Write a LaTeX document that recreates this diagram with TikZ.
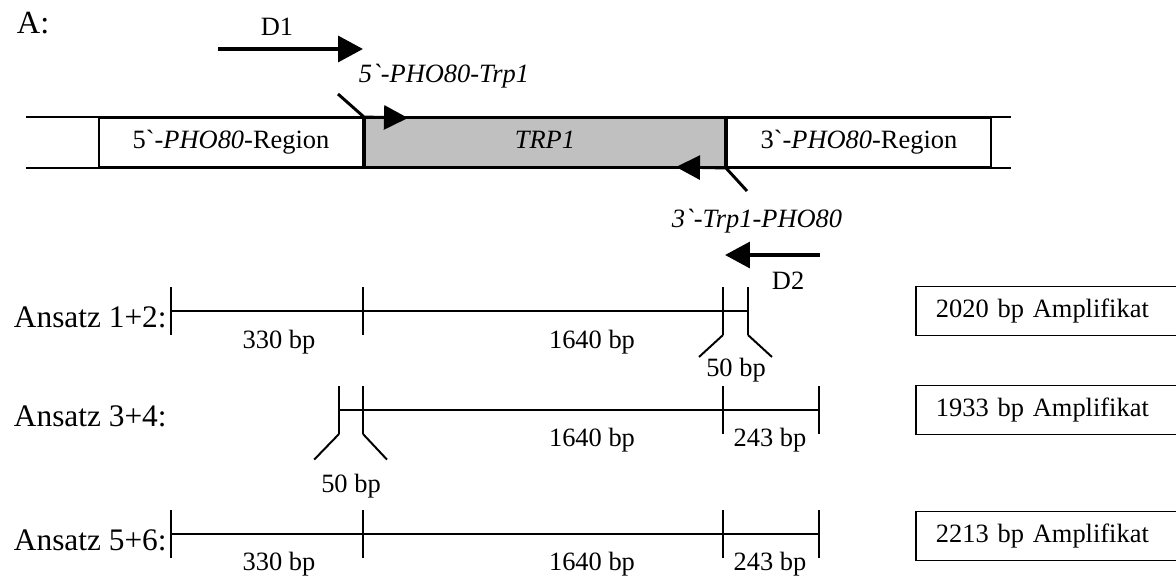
\documentclass[tikz,border=0pt]{standalone}
\usepackage{fontspec}
\setmainfont{Liberation Serif}
\usetikzlibrary{arrows.meta,positioning}
\definecolor{ink}{HTML}{000000}
\definecolor{trpgrey}{HTML}{C0C0C0}

\begin{document}
\begin{tikzpicture}[
  font=\fontsize{18.8}{22}\selectfont, text=ink,
  region/.style={draw=ink, line width=1.4pt, minimum width=6.6cm,
    minimum height=1.225cm, inner sep=0pt, text height=.9em, text depth=0pt},
  strand/.style={draw=ink, line width=1.4pt},
  primer/.style={-{Triangle[length=.62cm, width=.64cm]}, draw=ink, line width=2.8pt},
  junction/.style={-{Triangle[length=.6cm, width=.6cm]}, draw=ink, line width=2.1pt},
  ruler/.style={draw=ink, line width=1.4pt},
  ansatz/.style={anchor=base west, font=\fontsize{22.3}{26}\selectfont},
  bp/.style={anchor=base},
  primerlabel/.style={anchor=base, font=\fontsize{18.8}{22}\selectfont\itshape},
  product/.style={draw=ink, line width=1.4pt, anchor=west, text width=6cm,
    inner xsep=.5cm, minimum height=1.225cm, align=left}
]
\useasboundingbox (0,0) rectangle (29.4,-14.4);

% Construct: deletion cassette with TRP1 between the PHO80 flanks.
\node[anchor=base west, font=\fontsize{23}{27}\selectfont] (panel) at (.3,-.83) {A:};
\node[region] (reg5) at (5.775,-3.5625) {5\textasciigrave-\textit{PHO80}-Region};
\node[region, fill=trpgrey, minimum width=9cm, right=0pt of reg5] (trp) {\textit{TRP1}};
\node[region, right=0pt of trp] (reg3) {3\textasciigrave-\textit{PHO80}-Region};
\coordinate (lend) at (.65,-3.5625);
\coordinate (rend) at (25.275,-3.5625);
\draw[strand] (lend |- reg5.north) -- (rend |- reg3.north);
\draw[strand] (lend |- reg5.south) -- (rend |- reg3.south);

% Fusion primers at both junctions.
\coordinate (p5start) at (8.45,-2.35);
\coordinate (p5tip) at (10.2,-2.95);
\draw[junction] (p5start) -- (trp.north west) -- (p5tip);
\node[primerlabel] (fwdlabel) at (11.1,-2.05) {5\textasciigrave-PHO80-Trp1};
\coordinate (p3start) at (18.675,-4.775);
\coordinate (p3tip) at (16.9,-4.175);
\draw[junction] (p3start) -- (trp.south east) -- (p3tip);
\node[primerlabel] (revlabel) at (18.925,-5.675) {3\textasciigrave-Trp1-PHO80};

% Outer primers D1 and D2.
\coordinate (d1start) at (5.45,-1.225);
\coordinate (d1tip) at (9.075,-1.225);
\draw[primer] (d1start) -- (d1tip);
\node[bp] (d1) at (6.925,-.875) {D1};
\coordinate (d2start) at (20.5,-6.375);
\coordinate (d2tip) at (18.125,-6.375);
\draw[primer] (d2start) -- (d2tip);
\node[anchor=base west] (d2) at (19.175,-7.225) {D2};

% Ansatz 1+2
\node[ansatz] (ans1) at (.225,-8.175) {Ansatz 1+2:};
\coordinate (r1a) at (4.275,-7.775);
\coordinate (r1b) at (9.075,-7.775);
\coordinate (r1c) at (18.075,-7.775);
\coordinate (r1d) at (18.7,-7.775);
\draw[ruler] (r1a) -- (r1d);
\foreach \p in {r1a,r1b,r1c,r1d}
  \draw[ruler] ([yshift=.6cm]\p) -- ([yshift=-.6cm]\p);
\draw[ruler] ([yshift=-.6cm]r1c) -- ++(-.6,-.55);
\draw[ruler] ([yshift=-.6cm]r1d) -- ++(.6,-.55);
\node[bp] (l1a) at (6.975,-8.7) {330 bp};
\node[bp] (l1b) at (14.8,-8.7) {1640 bp};
\node[bp] (l1c) at (18.4,-9.42) {50 bp};
\node[product] (amp1) at (22.875,-7.775) {2020 bp Amplifikat};

% Ansatz 3+4
\node[ansatz] (ans2) at (.225,-10.65) {Ansatz 3+4:};
\coordinate (r2a) at (8.475,-10.25);
\coordinate (r2b) at (9.075,-10.25);
\coordinate (r2c) at (18.075,-10.25);
\coordinate (r2d) at (20.475,-10.25);
\draw[ruler] (r2a) -- (r2d);
\foreach \p in {r2a,r2b,r2c,r2d}
  \draw[ruler] ([yshift=.6cm]\p) -- ([yshift=-.6cm]\p);
\draw[ruler] ([yshift=-.6cm]r2a) -- ++(-.62,-.64);
\draw[ruler] ([yshift=-.6cm]r2b) -- ++(.6,-.64);
\node[bp] (l2a) at (14.8,-11.15) {1640 bp};
\node[bp] (l2b) at (19.25,-11.15) {243 bp};
\node[bp] (l2c) at (8.775,-12.3) {50 bp};
\node[product] (amp2) at (22.875,-10.25) {1933 bp Amplifikat};

% Ansatz 5+6
\node[ansatz] (ans3) at (.225,-13.75) {Ansatz 5+6:};
\coordinate (r3a) at (4.275,-13.35);
\coordinate (r3b) at (9.075,-13.35);
\coordinate (r3c) at (18.075,-13.35);
\coordinate (r3d) at (20.475,-13.35);
\draw[ruler] (r3a) -- (r3d);
\foreach \p in {r3a,r3b,r3c,r3d}
  \draw[ruler] ([yshift=.6cm]\p) -- ([yshift=-.6cm]\p);
\node[bp] (l3a) at (6.975,-14.25) {330 bp};
\node[bp] (l3b) at (14.8,-14.25) {1640 bp};
\node[bp] (l3c) at (19.25,-14.25) {243 bp};
\node[product] (amp3) at (22.875,-13.4) {2213 bp Amplifikat};
\end{tikzpicture}
\end{document}
